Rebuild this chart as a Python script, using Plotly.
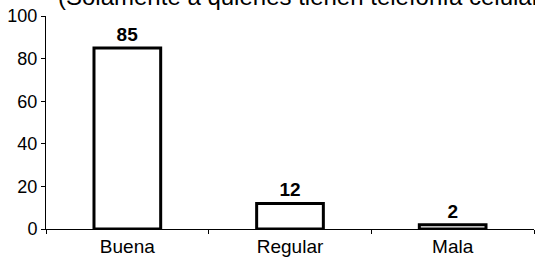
import plotly.graph_objects as go

categories = ["Buena", "Regular", "Mala"]
values = [85, 12, 2]
y_ticks = [0, 20, 40, 60, 80, 100]
title_text = "(Solamente a quienes tienen telefonía celular)"

font_fam = "Liberation Sans, Arial, sans-serif"

fig = go.Figure(go.Bar(
    x=categories, y=values, width=0.41,
    marker=dict(color="white", line=dict(color="black", width=3)),
    text=[f"<b>{v}</b>" for v in values], textposition="outside",
    textfont=dict(family=font_fam, size=19, color="black"),
    cliponaxis=False,
))

fig.update_layout(
    width=535, height=260,
    margin=dict(l=46, r=1, t=16, b=31),
    paper_bgcolor="white", plot_bgcolor="white",
    showlegend=False,
    font=dict(family=font_fam, color="black"),
    annotations=[dict(
        text=title_text, xref="paper", yref="paper", x=10/488, y=1.0 + 4/213,
        xanchor="left", yanchor="bottom", showarrow=False,
        font=dict(family=font_fam, size=24, color="black"),
    )],
)
fig.update_xaxes(
    showline=True, linecolor="black", linewidth=1,
    ticks="outside", tickson="boundaries", ticklen=4, tickcolor="black",
    tickfont=dict(size=19), showgrid=False,
)
fig.update_yaxes(
    range=[0, 100], tickvals=y_ticks, showline=True, linecolor="black", linewidth=1,
    ticks="outside", ticklen=4, tickcolor="black", showgrid=False, zeroline=False,
    tickfont=dict(size=18),
)

fig.write_html("out.html", config={"displayModeBar": False},
               post_script="document.body.style.margin='0';")
